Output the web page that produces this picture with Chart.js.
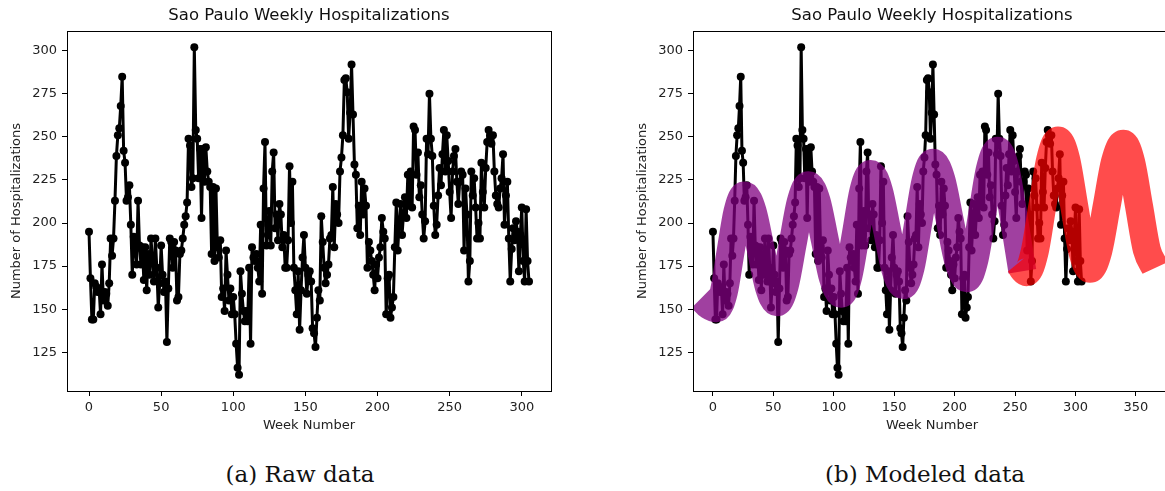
<!DOCTYPE html>
<html>
<head>
<meta charset="utf-8">
<script src="https://cdn.jsdelivr.net/npm/chart.js@4.4.0/dist/chart.umd.min.js"></script>
<style>
body{margin:0;background:#fff;width:1165px;height:491px;overflow:hidden;position:relative;}
.box{position:absolute;top:0;}
#boxRaw{left:0;}
#boxModel{left:626px;}
.cap{position:absolute;top:461px;line-height:27px;font-family:"DejaVu Serif",serif;font-size:23px;color:#111;text-align:center;}
</style>
</head>
<body>
<div class="box" id="boxRaw"><canvas id="rawChart" width="618" height="440"></canvas></div>
<div class="box" id="boxModel"><canvas id="modelChart" width="612" height="440"></canvas></div>
<div class="cap" style="left:0;width:600px;">(a) Raw data</div>
<div class="cap" style="left:725px;width:400px;">(b) Modeled data</div>
<script>
// weekly hospitalizations, week 0 .. 305
const hospVals = [
195,168,144,144,165,163,160,162,147,176,
155,160,159,152,165,191,181,191,213,239,
251,255,268,285,242,235,213,215,222,199,
170,192,185,176,213,187,176,186,167,186,
161,182,170,191,178,166,191,174,151,165,
187,170,160,166,131,162,191,189,174,189,
184,155,157,182,184,191,199,204,212,249,
245,221,226,302,254,249,226,243,203,243,
224,244,230,224,221,182,221,178,220,186,
180,190,157,162,149,184,170,155,162,147,
157,147,130,116,112,172,159,149,143,149,
143,174,130,186,180,178,182,174,166,199,
159,220,247,187,193,207,187,230,241,197,
205,190,211,205,186,193,174,174,190,233,
200,224,174,161,147,172,138,161,180,193,
174,159,170,172,166,139,136,128,145,161,
155,204,189,174,165,170,176,191,193,221,
186,211,205,200,230,238,251,283,284,276,
249,264,292,263,234,228,197,210,193,224,
205,220,210,174,189,184,178,170,161,176,
168,180,186,203,195,191,147,168,170,145,
151,157,186,212,184,200,211,193,205,215,
203,228,210,230,209,256,254,228,241,215,
222,205,191,201,249,240,275,249,239,210,
193,199,216,232,222,240,254,230,251,236,
218,203,230,239,243,224,211,224,230,228,
184,220,205,166,178,230,216,226,209,191,
200,191,235,218,209,232,247,254,251,246,
251,230,216,211,209,220,226,240,199,216,
224,191,166,185,197,190,201,195,172,193,
209,178,166,208,178,166
];
const hospWeeks = hospVals.map((v, i) => i);

// fitted curve (purple) and forecast (red)
const purpleWeeks = [-9.5,-3,3,9,14.5,20.25,26,32.75,39.5,46.25,53,59.5,66,72.5,79,85.75,92.5,99.25,106,112,118.25,124.4,130.5,137.25,144,150.75,157.5,163.6,169.75,175.9,182,189,196,203,210,216.4,222.75,229.1,235.5,242,248.5,256];
const purpleVals  = [156.5,152,150.5,160,183,206.5,216,207,185,163,154,164,188,212,222,212.8,190.5,168.2,159,169,193.7,218.4,228.5,219,196.2,173.4,164,174.4,199.5,224.6,235,225.2,201.5,177.8,168,178.8,205,231.2,242,231.5,205,172];
const redWeeks = [253,259.5,266,272.5,279,285.5,292.1,298.75,305.4,312,318.9,325.75,332.6,339.5,346,352.5,359,366];
const redVals  = [177,171.5,182.7,209.8,236.8,248,237.4,210.75,184.1,173.5,184,209.75,235.5,246,235.5,210,184.5,174];

const xTicksRaw = [0,50,100,150,200,250,300];
const xTicksModel = [0,50,100,150,200,250,300,350];
const yTicks = [125,150,175,200,225,250,275,300];

const sFont = "DejaVu Sans";
const sTitle = "Sao Paulo Weekly Hospitalizations";

function toXY(aX, aY){
    return aX.map((x, i) => ({x: x, y: aY[i]}));
}

const framePlugin = {
    id: "frame",
    afterDraw(chart){
        const a = chart.chartArea;
        const c = chart.ctx;
        c.save();
        c.strokeStyle = "#000";
        c.lineWidth = 1;
        c.strokeRect(Math.round(a.left) + 0.5, Math.round(a.top) + 0.5, Math.round(a.right - a.left), Math.round(a.bottom - a.top));
        c.restore();
    }
};

function hospDataset(){
    return {
        data: toXY(hospWeeks, hospVals),
        borderColor: "#000",
        borderWidth: 3,
        borderJoinStyle: "round",
        borderCapStyle: "round",
        pointRadius: 4,
        pointBackgroundColor: "#000",
        pointBorderWidth: 0,
        tension: 0,
        order: 3
    };
}

function makeChart(sId, aDatasets, nMin, nMax, aXTicks){
    return new Chart(document.getElementById(sId).getContext("2d"), {
        type: "line",
        data: {datasets: aDatasets},
        options: {
            responsive: false,
            animation: false,
            events: [],
            layout: {padding: 0},
            plugins: {
                legend: {display: false},
                tooltip: {enabled: false},
                title: {
                    display: true,
                    text: sTitle,
                    color: "#111",
                    font: {family: sFont, size: 16.5, weight: "normal"},
                    lineHeight: 1.2,
                    padding: {top: 5.7, bottom: 5.5}
                }
            },
            scales: {
                x: {
                    type: "linear",
                    min: nMin,
                    max: nMax,
                    afterBuildTicks: s => { s.ticks = aXTicks.map(v => ({value: v})); },
                    afterFit: s => { s.height = 49; },
                    ticks: {color: "#222", font: {family: sFont, size: 13}, padding: 4, maxRotation: 0, autoSkip: false},
                    grid: {drawOnChartArea: false, drawTicks: true, tickLength: 5, color: "#000"},
                    border: {display: false},
                    title: {display: true, text: "Week Number", color: "#222", font: {family: sFont, size: 13}, padding: {top: 0, bottom: 7}}
                },
                y: {
                    type: "linear",
                    min: 102.5,
                    max: 311.5,
                    afterBuildTicks: s => { s.ticks = yTicks.map(v => ({value: v})); },
                    afterFit: s => { s.width = 67; },
                    ticks: {color: "#222", font: {family: sFont, size: 13}, padding: 5, autoSkip: false},
                    grid: {drawOnChartArea: false, drawTicks: true, tickLength: 5, color: "#000"},
                    border: {display: false},
                    title: {display: true, text: "Number of Hospitalizations", color: "#222", font: {family: sFont, size: 13}, padding: {top: 9, bottom: 0}}
                },
                // empty right gutter so the title centres over the plot
                yRight: {
                    type: "linear",
                    position: "right",
                    min: 0,
                    max: 1,
                    afterFit: s => { s.width = 67; },
                    ticks: {display: false},
                    grid: {display: false},
                    border: {display: false}
                }
            }
        },
        plugins: [framePlugin]
    });
}

makeChart("rawChart", [hospDataset()], -15.25, 320.25, xTicksRaw);

makeChart("modelChart", [
    hospDataset(),
    {
        data: toXY(purpleWeeks, purpleVals),
        borderColor: "rgba(128,0,128,0.75)",
        borderWidth: 28,
        borderCapStyle: "butt",
        borderJoinStyle: "round",
        cubicInterpolationMode: "monotone",
        pointRadius: 0,
        clip: 0,
        order: 2
    },
    {
        data: toXY(redWeeks, redVals),
        borderColor: "rgba(255,0,0,0.7)",
        borderWidth: 28,
        borderCapStyle: "butt",
        borderJoinStyle: "round",
        cubicInterpolationMode: "monotone",
        pointRadius: 0,
        clip: 0,
        order: 1
    }
], -16.5, 379, xTicksModel);
</script>
</body>
</html>
